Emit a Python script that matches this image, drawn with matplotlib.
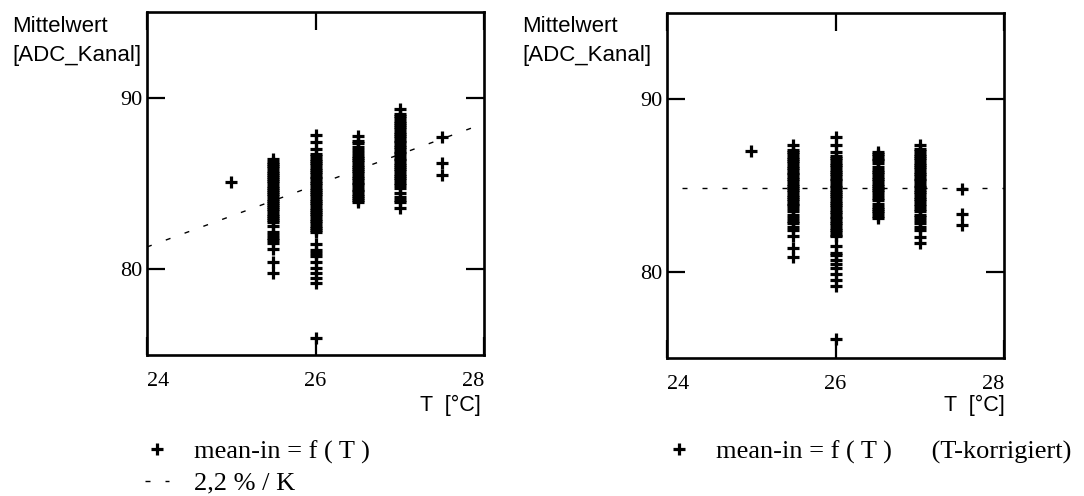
import matplotlib.pyplot as plt

# temperature steps [°C]
temps = [25.0, 25.5, 26.0, 26.5, 27.0, 27.5]

# mean-in values per temperature step, raw
raw_250 = [85.1]
raw_255 = [86.45, 86.25, 86.12, 86.0, 85.88, 85.75, 85.62, 85.5, 85.38, 85.25, 85.12, 85.0,
           84.88, 84.75, 84.62, 84.5, 84.38, 84.25, 84.12, 84.0, 83.88, 83.75, 83.62, 83.5,
           83.38, 83.25, 83.12, 83.0, 82.88, 82.75, 82.5, 82.2, 82.0, 81.85, 81.7, 81.55,
           81.2, 80.4, 79.8]
raw_260 = [87.8, 87.4, 87.0, 86.7, 86.58, 86.45, 86.3, 86.2, 86.05, 85.9, 85.8, 85.65, 85.55,
           85.4, 85.3, 85.15, 85.0, 84.9, 84.75, 84.65, 84.5, 84.4, 84.25, 84.1, 84.0, 83.85,
           83.75, 83.6, 83.45, 83.35, 83.2, 83.1, 82.95, 82.8, 82.7, 82.55, 82.4, 82.3, 82.15,
           81.5, 81.1, 80.95, 80.8, 80.45, 80.1, 79.8, 79.5, 79.2, 76.0]
raw_265 = [87.75, 87.5, 87.35, 87.1, 86.95, 86.75, 86.62, 86.5, 86.35, 86.25, 86.1, 85.95,
           85.85, 85.7, 85.6, 85.45, 85.3, 85.2, 85.05, 84.95, 84.8, 84.65, 84.55, 84.4, 84.3,
           84.15, 84.05, 83.95]
raw_270 = [89.35, 89.05, 88.92, 88.8, 88.65, 88.55, 88.4, 88.3, 88.15, 88.0, 87.9, 87.75,
           87.65, 87.5, 87.4, 87.25, 87.1, 87.0, 86.85, 86.75, 86.6, 86.45, 86.35, 86.2, 86.1,
           85.95, 85.85, 85.7, 85.55, 85.45, 85.3, 85.2, 85.05, 84.9, 84.75, 84.45, 84.2,
           84.05, 83.9, 83.6]
raw_275 = [87.7, 86.2, 85.5]

# mean-in values per temperature step, T-corrected
cor_250 = [87.0]
cor_255 = [87.35, 87.05, 86.92, 86.8, 86.65, 86.55, 86.4, 86.3, 86.15, 86.0, 85.9, 85.75,
           85.65, 85.5, 85.4, 85.25, 85.1, 85.0, 84.85, 84.75, 84.6, 84.45, 84.35, 84.2, 84.1,
           83.95, 83.85, 83.7, 83.55, 83.3, 83.1, 82.95, 82.8, 82.6, 82.4, 82.1, 81.4, 80.85]
cor_260 = [87.8, 87.35, 86.95, 86.7, 86.58, 86.45, 86.3, 86.2, 86.05, 85.9, 85.8, 85.65,
           85.55, 85.4, 85.3, 85.15, 85.0, 84.9, 84.75, 84.65, 84.5, 84.4, 84.25, 84.1, 84.0,
           83.85, 83.75, 83.6, 83.45, 83.35, 83.2, 83.1, 82.95, 82.8, 82.7, 82.55, 82.4, 82.3,
           82.15, 82.05, 81.5, 81.1, 80.95, 80.7, 80.45, 80.2, 79.85, 79.5, 79.2, 76.1]
cor_265 = [86.95, 86.82, 86.7, 86.55, 86.45, 86.3, 86.1, 85.9, 85.78, 85.65, 85.5, 85.4,
           85.25, 85.1, 85.0, 84.85, 84.72, 84.6, 84.45, 84.3, 84.15, 83.9, 83.78, 83.65,
           83.5, 83.38, 83.25, 83.1]
cor_270 = [87.35, 87.1, 86.98, 86.85, 86.7, 86.6, 86.45, 86.3, 86.2, 86.05, 85.95, 85.8,
           85.65, 85.55, 85.4, 85.3, 85.15, 85.0, 84.9, 84.75, 84.6, 84.5, 84.35, 84.2, 84.1,
           83.95, 83.8, 83.65, 83.5, 83.3, 83.15, 83.0, 82.85, 82.6, 82.4, 82.0, 81.65]
cor_275 = [84.8, 83.35, 82.7]

# fit lines
fit_t = [24, 28]
fit_raw = [81.3, 88.5]
fit_cor = [84.85, 84.85]

xticks = [24, 26, 28]
yticks = [80, 90]

SERIF = 'Liberation Serif'
SANS = 'Liberation Sans'
W, H = 1084, 496


def flatten(groups):
    xs, ys = [], []
    for t, vals in zip(temps, groups):
        xs += [t] * len(vals)
        ys += vals
    return xs, ys


def style_axes(ax):
    ax.set_xlim(24, 28)
    ax.set_ylim(75, 95)
    ax.set_xticks(xticks)
    ax.set_yticks(yticks)
    for s in ax.spines.values():
        s.set_linewidth(1.9)
    ax.tick_params(direction='in', length=13, width=1.6, top=True, right=True,
                   labelsize=16, labelfontfamily=SERIF)
    ax.tick_params(axis='x', pad=12)
    ax.tick_params(axis='y', pad=3)
    labels = ax.get_xticklabels()
    labels[0].set_ha('left')
    labels[-1].set_ha('right')


fig = plt.figure(figsize=(W / 100, H / 100), dpi=100)
ax1 = fig.add_axes([147 / W, 1 - 355 / H, 337 / W, 343 / H])
ax2 = fig.add_axes([667 / W, 1 - 358 / H, 337 / W, 345 / H])

mk = dict(linestyle='none', marker='+', color='black', markersize=8.8, markeredgewidth=2.3)

x, y = flatten([raw_250, raw_255, raw_260, raw_265, raw_270, raw_275])
pts1, = ax1.plot(x, y, **mk)
fit1, = ax1.plot(fit_t, fit_raw, color='black', lw=1.0, linestyle=(0, (3.6, 10.8)))
style_axes(ax1)

x, y = flatten([cor_250, cor_255, cor_260, cor_265, cor_270, cor_275])
pts2, = ax2.plot(x, y, **mk)
ax2.plot(fit_t, fit_cor, color='black', lw=1.0, linestyle=(3.6, (3.6, 10.8)))
style_axes(ax2)

# axis texts
for x0 in [12, 522]:
    fig.text(x0 / W, 1 - 26 / H, 'Mittelwert', fontsize=16, family=SANS, va='center')
    fig.text(x0 / W, 1 - 56 / H, '[ADC_Kanal]', fontsize=16, family=SANS, va='center')
fig.text(481 / W, 1 - 405 / H, 'T  [°C]', fontsize=15.5, family=SANS, va='center', ha='right')
fig.text(1005 / W, 1 - 405 / H, 'T  [°C]', fontsize=15.5, family=SANS, va='center', ha='right')

# legends
leg_kw = dict(loc='upper left', bbox_transform=fig.transFigure, frameon=False,
              prop={'family': SERIF, 'size': 19}, handlelength=0.9, handletextpad=0.95,
              borderpad=0, borderaxespad=0, labelspacing=0.28, numpoints=1)
ax1.legend([pts1, fit1], ['mean-in = f ( T )', '2,2 % / K'],
           bbox_to_anchor=(145 / W, 1 - 440 / H), **leg_kw)
ax2.legend([pts2], ['mean-in = f ( T )      (T-korrigiert)'],
           bbox_to_anchor=(667 / W, 1 - 440 / H), **leg_kw)

fig.savefig('out.png', dpi=100)
